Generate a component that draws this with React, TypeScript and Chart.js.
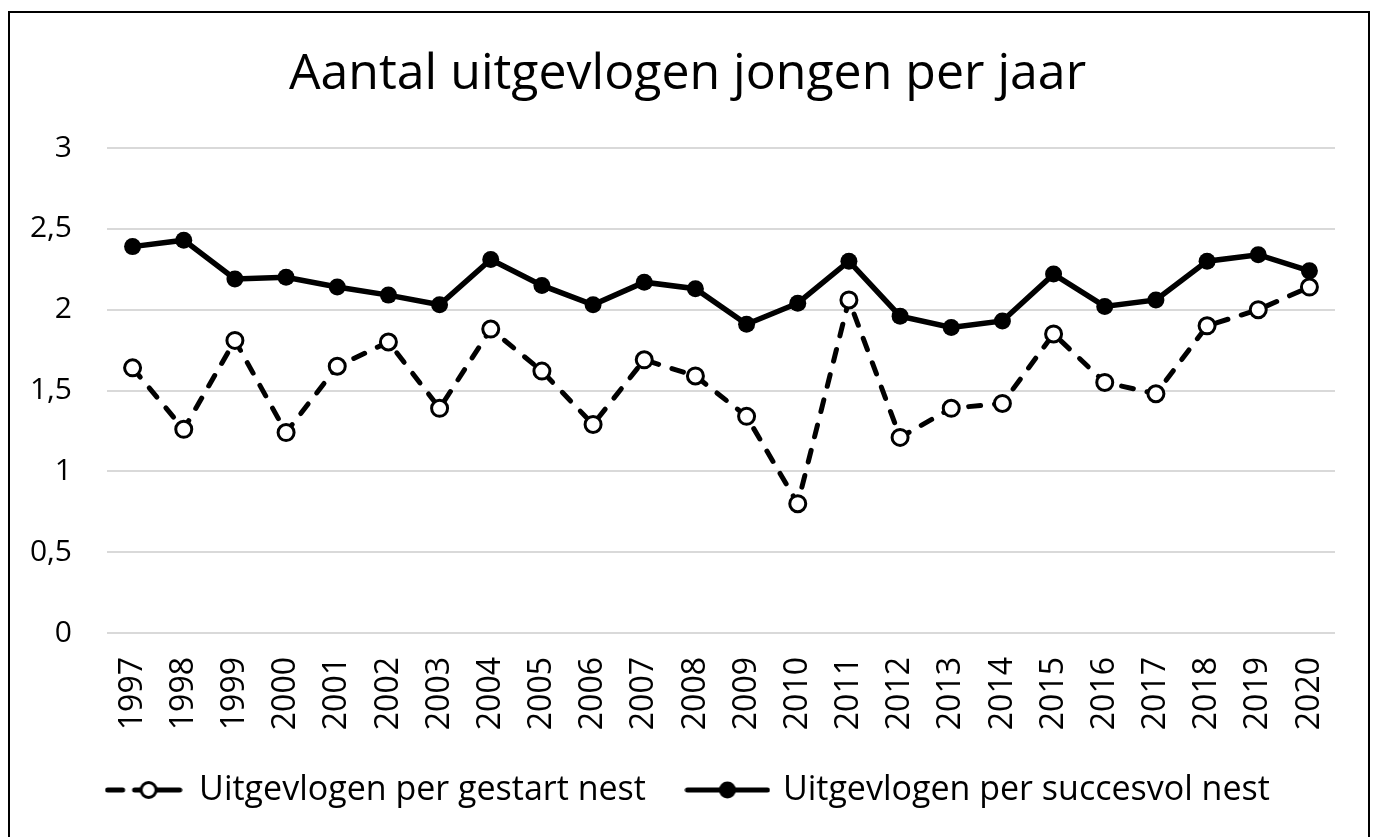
import React, { useEffect, useRef } from "react";
import { Chart, registerables } from "chart.js";

Chart.register(...registerables);

const TITLE = "Aantal uitgevlogen jongen per jaar";
const years = ["1997","1998","1999","2000","2001","2002","2003","2004","2005","2006","2007","2008","2009","2010","2011","2012","2013","2014","2015","2016","2017","2018","2019","2020"];
const perStartedNest = [1.64,1.26,1.81,1.24,1.65,1.80,1.39,1.88,1.62,1.29,1.69,1.59,1.34,0.80,2.06,1.21,1.39,1.42,1.85,1.55,1.48,1.90,2.00,2.14];
const perSuccessfulNest = [2.39,2.43,2.19,2.20,2.14,2.09,2.03,2.31,2.15,2.03,2.17,2.13,1.91,2.04,2.30,1.96,1.89,1.93,2.22,2.02,2.06,2.30,2.34,2.24];
const seriesNames = ["Uitgevlogen per gestart nest", "Uitgevlogen per succesvol nest"];
const yTickLabels = ["0", "0,5", "1", "1,5", "2", "2,5", "3"];

const FONT = "'Open Sans', sans-serif";

function makeLegendImage(dashed: boolean): HTMLCanvasElement {
  const c = document.createElement("canvas");
  c.width = dashed ? 78 : 86;
  c.height = 24;
  const ctx = c.getContext("2d")!;
  const cy = 12;
  ctx.strokeStyle = "#000";
  ctx.lineWidth = 5;
  ctx.lineCap = "round";
  if (dashed) {
    ctx.beginPath();
    ctx.moveTo(3, cy);
    ctx.lineTo(18, cy);
    ctx.moveTo(30, cy);
    ctx.lineTo(75, cy);
    ctx.stroke();
    ctx.beginPath();
    ctx.arc(44, cy, 7.5, 0, Math.PI * 2);
    ctx.fillStyle = "#fff";
    ctx.fill();
    ctx.lineWidth = 3;
    ctx.stroke();
  } else {
    ctx.beginPath();
    ctx.moveTo(3, cy);
    ctx.lineTo(83, cy);
    ctx.stroke();
    ctx.beginPath();
    ctx.arc(43, cy, 8.5, 0, Math.PI * 2);
    ctx.fillStyle = "#000";
    ctx.fill();
  }
  return c;
}

const framePlugin = {
  id: "frame",
  beforeDraw(chart: any) {
    const ctx = chart.ctx;
    ctx.save();
    ctx.fillStyle = "#fff";
    ctx.fillRect(0, 0, chart.width, chart.height);
    ctx.strokeStyle = "#000";
    ctx.lineWidth = 2;
    ctx.strokeRect(9, 12, 1360, 900);
    ctx.restore();
  },
};

export default function App() {
  const ref = useRef<HTMLCanvasElement>(null);
  useEffect(() => {
    if (!ref.current) return;
    const imgs = [makeLegendImage(true), makeLegendImage(false)];
    const chart = new Chart(ref.current, {
      type: "line",
      data: {
        labels: years,
        datasets: [
          {
            label: seriesNames[0],
            data: perStartedNest,
            borderColor: "#000",
            borderWidth: 5,
            borderDash: [12, 14],
            borderCapStyle: "round",
            pointRadius: 8,
            pointBorderWidth: 3,
            pointBackgroundColor: "#fff",
            pointBorderColor: "#000",
            tension: 0,
          },
          {
            label: seriesNames[1],
            data: perSuccessfulNest,
            borderColor: "#000",
            borderWidth: 5.5,
            pointRadius: 8.5,
            pointBorderWidth: 0,
            pointBackgroundColor: "#000",
            pointBorderColor: "#000",
            tension: 0,
          },
        ],
      },
      options: {
        responsive: false,
        animation: false,
        layout: { padding: { left: 0, right: 0, top: 0, bottom: 20 } },
        plugins: {
          title: {
            display: true,
            text: TITLE,
            color: "#000",
            font: { family: FONT, size: 50, weight: "normal" },
            padding: { top: 45, bottom: 43 },
          },
          legend: {
            position: "bottom",
            labels: {
              color: "#000",
              font: { family: FONT, size: 34 },
              usePointStyle: true,
              pointStyleWidth: 77,
              padding: 43,
              generateLabels: () =>
                seriesNames.map((name, i) => ({
                  text: name,
                  pointStyle: imgs[i],
                  datasetIndex: i,
                  fillStyle: "#000",
                  strokeStyle: "#000",
                  lineWidth: 0,
                  hidden: false,
                })) as any,
            },
          },
          tooltip: { enabled: false },
        },
        scales: {
          x: {
            offset: true,
            grid: { display: false, drawTicks: false },
            border: { display: false },
            ticks: {
              color: "#000",
              font: { family: FONT, size: 32 },
              minRotation: 90,
              maxRotation: 90,
              autoSkip: false,
              padding: 24,
            },
            afterFit: (s: any) => {
              s.height = 97;
            },
          },
          y: {
            min: 0,
            max: 3,
            grid: { color: "#d9d9d9", lineWidth: 2, drawTicks: false },
            border: { display: false },
            ticks: {
              stepSize: 0.5,
              color: "#000",
              font: { family: FONT, size: 30 },
              padding: 35,
              callback: (_v: any, i: number) => yTickLabels[i],
            },
            afterFit: (s: any) => {
              s.width = 107;
            },
          },
          yRight: {
            type: "linear",
            position: "right",
            min: 0,
            max: 3,
            grid: { display: false, drawTicks: false },
            border: { display: false },
            ticks: { display: false },
            afterFit: (s: any) => {
              s.width = 40;
            },
          },
        },
      },
      plugins: [framePlugin],
    });
    return () => chart.destroy();
  }, []);
  return (
    <div style={{ position: "fixed", left: 0, top: 0, width: 1375, height: 837, background: "#fff" }}>
      <canvas ref={ref} width={1375} height={837} style={{ display: "block" }} />
    </div>
  );
}
